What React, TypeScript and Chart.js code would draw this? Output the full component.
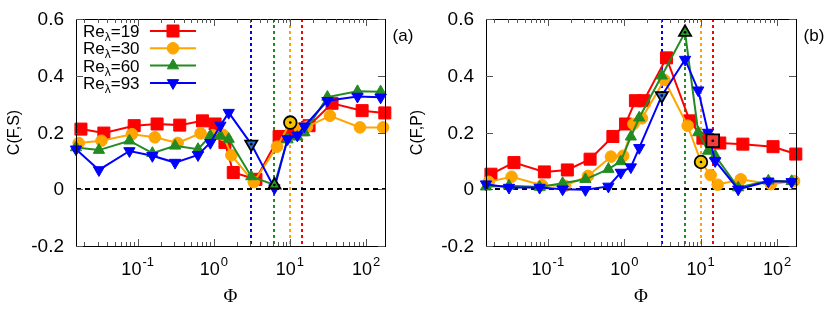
import React, { useEffect, useRef } from 'react';
import { Chart, registerables } from 'chart.js';

Chart.register(...registerables);

// ---------------- data ----------------
const seriesLabels = ['19', '30', '60', '93'];
const seriesColors = ['#ff0000', '#ffa500', '#228b22', '#0000ff'];
const highlightFill = ['#f03c3c', '#f5c400', '#2a9a2a', '#2f6fe0'];
const pointStyles = ['rect', 'circle', 'triangle', 'triangle'];
const pointRotations = [0, 0, 0, 180];
const pointRadii = [8.5, 5.8, 6.5, 6.5];

// Phi values per Re_lambda
const phiRe19 = [0.018, 0.036, 0.09, 0.18, 0.357, 0.71, 1.04, 1.4, 1.8, 3.57, 7.2, 10.7, 14.4, 17.8, 35.7, 88.6, 176];
const phiRe30 = [0.0168, 0.0335, 0.084, 0.168, 0.335, 0.67, 0.97, 1.32, 1.7, 3.35, 6.75, 10.1, 13.5, 16.7, 33.5, 83, 167];
const phiRe60 = [0.0155, 0.031, 0.078, 0.156, 0.31, 0.62, 0.9, 1.22, 1.57, 3.1, 6.25, 9.3, 12.5, 15.5, 31, 77, 155];
const phiRe93 = [0.0155, 0.031, 0.078, 0.156, 0.31, 0.62, 0.9, 1.22, 1.57, 3.1, 6.25, 9.3, 12.5, 15.5, 31, 77, 155];

// panel (a): C(F,S)
const fsRe19 = [0.212, 0.198, 0.224, 0.23, 0.226, 0.241, 0.23, 0.165, 0.059, 0.035, 0.186, 0.2, 0.21, 0.224, 0.303, 0.277, 0.269];
const fsRe30 = [0.163, 0.171, 0.194, 0.183, 0.163, 0.197, 0.19, 0.192, 0.12, 0.025, 0.15, 0.235, 0.215, 0.22, 0.259, 0.218, 0.218];
const fsRe60 = [0.147, 0.138, 0.171, 0.127, 0.153, 0.141, 0.188, 0.188, 0.177, 0.045, 0.015, 0.175, 0.185, 0.2, 0.325, 0.345, 0.344];
const fsRe93 = [0.141, 0.068, 0.135, 0.118, 0.094, 0.121, 0.164, 0.225, 0.27, 0.159, 0.004, 0.177, 0.19, 0.222, 0.312, 0.327, 0.324];

// panel (b): C(F,P)
const fpRe19 = [0.053, 0.094, 0.061, 0.068, 0.106, 0.186, 0.23, 0.312, 0.312, 0.463, 0.241, 0.18, 0.171, 0.163, 0.159, 0.15, 0.124];
const fpRe30 = [0.026, 0.044, 0.014, 0.012, 0.047, 0.115, 0.118, 0.23, 0.25, 0.385, 0.224, 0.096, 0.05, 0.016, 0.035, 0.018, 0.029];
const fpRe60 = [0.009, 0.012, 0.008, 0.021, 0.035, 0.071, 0.098, 0.185, 0.252, 0.4, 0.553, 0.2, 0.135, 0.118, 0.006, 0.03, 0.028];
const fpRe93 = [0.018, 0.006, 0.006, 0.0, -0.002, 0.01, 0.059, 0.078, 0.146, 0.33, 0.457, 0.349, 0.2, 0.1, 0.0, 0.028, 0.026];

// critical Phi (dashed lines) and highlighted points
const criticalPhi = [14.4, 10.1, 6.25, 3.1];
const highlightFS: (number | null)[] = [null, 0.235, 0.015, 0.159];
const highlightFP: (number | null)[] = [0.171, 0.096, 0.553, 0.33];

const yTicks = [-0.2, 0, 0.2, 0.4, 0.6];
const xDecades = [-1, 0, 1, 2];
const xMin = 0.0155;
const xMax = 177;

const SANS = "'Liberation Sans', Arial, sans-serif";
const SERIF = "'Liberation Serif', 'Times New Roman', serif";

// ---------------- helpers ----------------
function drawMarker(ctx: CanvasRenderingContext2D, style: string, rot: number, r: number, x: number, y: number) {
  ctx.beginPath();
  if (style === 'rect') {
    const s = r * Math.SQRT1_2;
    ctx.rect(x - s, y - s, 2 * s, 2 * s);
  } else if (style === 'circle') {
    ctx.arc(x, y, r, 0, Math.PI * 2);
  } else {
    let a = (rot * Math.PI) / 180;
    ctx.moveTo(x + Math.sin(a) * r, y - Math.cos(a) * r);
    a += (2 * Math.PI) / 3;
    ctx.lineTo(x + Math.sin(a) * r, y - Math.cos(a) * r);
    a += (2 * Math.PI) / 3;
    ctx.lineTo(x + Math.sin(a) * r, y - Math.cos(a) * r);
    ctx.closePath();
  }
  ctx.fill();
  ctx.stroke();
}

const decorPlugin = {
  id: 'decor',
  beforeDatasetsDraw(chart: any) {
    const { ctx, chartArea: a, scales } = chart;
    const x = scales.x, y = scales.y;
    ctx.save();
    ctx.lineWidth = 2;
    ctx.setLineDash([3, 3]);
    criticalPhi.forEach((p, i) => {
      const px = Math.round(x.getPixelForValue(p));
      ctx.strokeStyle = seriesColors[i];
      ctx.beginPath();
      ctx.moveTo(px, a.top);
      ctx.lineTo(px, a.bottom);
      ctx.stroke();
    });
    ctx.strokeStyle = '#000';
    ctx.setLineDash([5, 4]);
    const y0 = Math.round(y.getPixelForValue(0));
    ctx.beginPath();
    ctx.moveTo(a.left, y0);
    ctx.lineTo(a.right, y0);
    ctx.stroke();
    ctx.restore();
  },
  afterDraw(chart: any, _args: any, opts: any) {
    const { ctx, chartArea: a, scales } = chart;
    const x = scales.x, y = scales.y;
    ctx.save();
    // frame
    ctx.strokeStyle = '#000';
    ctx.lineWidth = 1;
    ctx.setLineDash([]);
    ctx.strokeRect(Math.round(a.left) + 0.5, Math.round(a.top) + 0.5, Math.round(a.right - a.left), Math.round(a.bottom - a.top));

    // x ticks (log)
    ctx.strokeStyle = '#555';
    for (let d = -2; d <= 3; d++) {
      for (let m = 1; m <= 9; m++) {
        const v = m * Math.pow(10, d);
        if (v < xMin || v > xMax) continue;
        const px = Math.round(x.getPixelForValue(v)) + 0.5;
        const len = m === 1 ? 7 : 4;
        ctx.beginPath();
        ctx.moveTo(px, a.bottom);
        ctx.lineTo(px, a.bottom - len);
        ctx.moveTo(px, a.top);
        ctx.lineTo(px, a.top + len);
        ctx.stroke();
      }
    }
    // y ticks
    yTicks.forEach((v) => {
      const py = Math.round(y.getPixelForValue(v)) + 0.5;
      ctx.beginPath();
      ctx.moveTo(a.left, py);
      ctx.lineTo(a.left + 7, py);
      ctx.moveTo(a.right, py);
      ctx.lineTo(a.right - 7, py);
      ctx.stroke();
    });

    // y tick labels
    ctx.fillStyle = '#000';
    ctx.font = `19px ${SANS}`;
    ctx.textAlign = 'right';
    ctx.textBaseline = 'middle';
    yTicks.forEach((v) => {
      const py = y.getPixelForValue(v);
      ctx.fillText(v === 0 ? '0' : v.toFixed(1), a.left - 12, py + 1);
    });

    // x tick labels 10^d
    ctx.textAlign = 'left';
    ctx.textBaseline = 'alphabetic';
    xDecades.forEach((d) => {
      const px = x.getPixelForValue(Math.pow(10, d));
      ctx.font = `18px ${SANS}`;
      const wBase = ctx.measureText('10').width;
      ctx.font = `13px ${SANS}`;
      const sup = String(d);
      const wSup = ctx.measureText(sup).width;
      const start = px - (wBase + wSup + 1) / 2;
      ctx.font = `18px ${SANS}`;
      ctx.fillText('10', start, a.bottom + 29);
      ctx.font = `13px ${SANS}`;
      ctx.fillText(sup, start + wBase + 1, a.bottom + 20);
    });

    // x title
    ctx.font = `19px ${SERIF}`;
    ctx.textAlign = 'center';
    ctx.textBaseline = 'middle';
    ctx.fillText('\u03A6', (a.left + a.right) / 2, 297);

    // y title
    ctx.save();
    ctx.translate(opts.titleX, (a.top + a.bottom) / 2);
    ctx.rotate(-Math.PI / 2);
    ctx.font = `16px ${SANS}`;
    ctx.fillText(opts.yTitle, 0, 0);
    ctx.restore();

    // panel label
    ctx.font = `17px ${SANS}`;
    ctx.fillText(opts.panelLabel, a.right + 18, 36);

    // legend
    if (opts.legend) {
      seriesLabels.forEach((lab, i) => {
        const ry = 31 + i * 17.3;
        ctx.fillStyle = '#000';
        ctx.textAlign = 'left';
        ctx.textBaseline = 'alphabetic';
        ctx.font = `17px ${SANS}`;
        let tx = 83;
        ctx.fillText('Re', tx, ry + 6);
        tx += ctx.measureText('Re').width;
        ctx.font = `12px ${SANS}`;
        ctx.fillText('\u03BB', tx, ry + 10);
        tx += ctx.measureText('\u03BB').width;
        ctx.font = `17px ${SANS}`;
        ctx.fillText('=' + lab, tx, ry + 6);
        ctx.strokeStyle = seriesColors[i];
        ctx.lineWidth = 2;
        ctx.beginPath();
        ctx.moveTo(150, ry);
        ctx.lineTo(196, ry);
        ctx.stroke();
        ctx.fillStyle = seriesColors[i];
        ctx.lineWidth = 1;
        drawMarker(ctx, pointStyles[i], pointRotations[i], pointRadii[i], 173, ry);
      });
    }
    ctx.restore();
  },
};

function makeConfig(values: number[][], highlights: (number | null)[], padLeft: number, padRight: number, decor: any) {
  const phis = [phiRe19, phiRe30, phiRe60, phiRe93];
  const datasets: any[] = values.map((vals, i) => ({
    label: 'Re=' + seriesLabels[i],
    data: phis[i].map((p, j) => ({ x: p, y: vals[j] })),
    borderColor: seriesColors[i],
    backgroundColor: seriesColors[i],
    borderWidth: 2,
    pointStyle: pointStyles[i],
    pointRotation: pointRotations[i],
    pointRadius: pointRadii[i],
    pointBorderWidth: 1,
    pointBorderColor: seriesColors[i],
    pointBackgroundColor: seriesColors[i],
    tension: 0,
    clip: false,
    order: 4 - i,
  }));
  highlights.forEach((h, i) => {
    if (h === null) return;
    datasets.push({
      label: 'crit' + i,
      data: [{ x: criticalPhi[i], y: h }],
      showLine: false,
      pointStyle: pointStyles[i],
      pointRotation: pointRotations[i],
      pointRadius: pointRadii[i] + 0.5,
      pointBorderWidth: 1.8,
      pointBorderColor: '#000',
      pointBackgroundColor: highlightFill[i],
      clip: false,
      order: 0,
    });
  });
  datasets.push({
    label: 'dots',
    data: highlights
      .map((h, i) => (h === null ? null : { x: criticalPhi[i], y: h }))
      .filter((d) => d !== null),
    showLine: false,
    pointStyle: 'circle',
    pointRadius: 1.3,
    pointBorderWidth: 0,
    pointBackgroundColor: '#000',
    clip: false,
    order: -1,
  });
  return {
    type: 'line' as const,
    data: { datasets },
    options: {
      responsive: false,
      animation: false,
      events: [],
      layout: { padding: { left: padLeft, right: padRight, top: 19, bottom: 64 } },
      plugins: { legend: { display: false }, tooltip: { enabled: false }, decor },
      scales: {
        x: { type: 'logarithmic', min: xMin, max: xMax, display: false },
        y: { type: 'linear', min: -0.2, max: 0.6, display: false },
      },
    },
    plugins: [decorPlugin],
  };
}

export default function App() {
  const refA = useRef<HTMLCanvasElement>(null);
  const refB = useRef<HTMLCanvasElement>(null);
  useEffect(() => {
    const ca = new Chart(
      refA.current as HTMLCanvasElement,
      makeConfig([fsRe19, fsRe30, fsRe60, fsRe93], highlightFS, 76, 35, {
        yTitle: 'C(F,S)',
        titleX: 15,
        panelLabel: '(a)',
        legend: true,
      }) as any
    );
    const cb = new Chart(
      refB.current as HTMLCanvasElement,
      makeConfig([fpRe19, fpRe30, fpRe60, fpRe93], highlightFP, 86, 34, {
        yTitle: 'C(F,P)',
        titleX: 18,
        panelLabel: '(b)',
        legend: false,
      }) as any
    );
    return () => {
      ca.destroy();
      cb.destroy();
    };
  }, []);
  return (
    <div style={{ position: 'absolute', left: 0, top: 0, width: 830, height: 310, background: '#fff' }}>
      <canvas ref={refA} width={420} height={310} style={{ position: 'absolute', left: 0, top: 0, width: 420, height: 310 }} />
      <canvas ref={refB} width={430} height={310} style={{ position: 'absolute', left: 400, top: 0, width: 430, height: 310 }} />
    </div>
  );
}
